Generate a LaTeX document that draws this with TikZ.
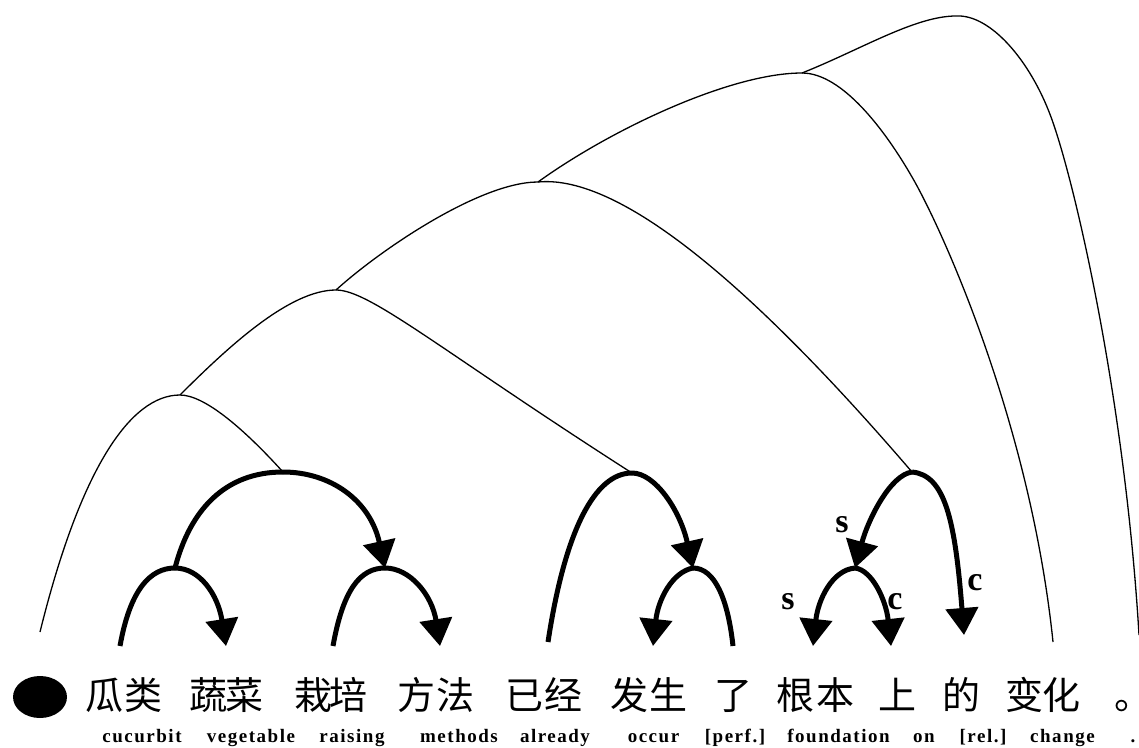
\documentclass[tikz,border=0pt]{standalone}
\usepackage{fontspec}
\setmainfont{Liberation Serif}
\newfontfamily\cjk{Noto Sans CJK SC}
\newfontfamily\gloss[LetterSpace=8]{Liberation Serif}
\usetikzlibrary{arrows.meta,shapes.geometric}
\begin{document}
\begin{tikzpicture}[x=1pt,y=-1pt,
  thinarc/.style={line width=1.3pt},
  thickarc/.style={line width=5pt},
  arr/.style={thickarc,-{Triangle[length=27pt,width=32pt]}},
  zh/.style={font=\cjk\fontsize{38}{40}\selectfont, inner sep=0pt, anchor=base},
  en/.style={font=\gloss\bfseries\fontsize{19}{21}\selectfont, inner sep=0pt, anchor=base},
  lab/.style={font=\bfseries\fontsize{34}{36}\selectfont, inner sep=0pt}]
\useasboundingbox (0,0) rectangle (1139,747);
% key points
\coordinate (a0) at (40,632);
\coordinate (pA) at (180,395);
\coordinate (pB) at (336,290);
\coordinate (pC) at (538,182);
\coordinate (pD) at (802,73);
\coordinate (pE) at (956,16);
\coordinate (t1) at (283,472);
\coordinate (t2) at (632,473);
\coordinate (t3) at (912,472);
\coordinate (s1) at (175,568);
\coordinate (s2) at (385,568);
\coordinate (s3) at (693,568);
\coordinate (s4) at (855,568);
\coordinate (dEnd) at (1053,642);
\coordinate (eEnd) at (1139,635);
\coordinate (f1) at (120,646);
\coordinate (f1t) at (226,646);
\coordinate (f2) at (333,646);
\coordinate (f2t) at (440,646);
\coordinate (f3) at (548,642);
\coordinate (f3t) at (653,646);
\coordinate (f3r) at (733,646);
\coordinate (f4l) at (813,646);
\coordinate (f4r) at (891,646);
\coordinate (t3r) at (964,635);
% thin arcs
\draw[thinarc] (a0) .. controls (80,470) and (130,395) .. (pA) .. controls (205,395) and (245,430) .. (t1);
\draw[thinarc] (pA) .. controls (230,345) and (290,290) .. (pB) .. controls (370,290) and (440,350) .. (t2);
\draw[thinarc] (pB) .. controls (380,250) and (480,182) .. (pC) .. controls (610,175) and (730,260) .. (t3);
\draw[thinarc] (pC) .. controls (610,130) and (730,73) .. (pD) .. controls (842,73) and (885,130) .. (912,177) .. controls (940,225) and (1030,420) .. (dEnd);
\draw[thinarc] (pD) .. controls (860,50) and (915,16) .. (pE) .. controls (990,14) and (1030,60) .. (1051,117) .. controls (1075,182) and (1125,400) .. (eEnd);
% thick arcs
\draw[thickarc] (f1) .. controls (130,590) and (150,568) .. (s1);
\draw[arr] (s1) .. controls (200,568) and (218,595) .. (f1t);
\draw[thickarc] (s1) .. controls (190,510) and (225,472) .. (t1);
\draw[arr] (t1) .. controls (330,472) and (370,500) .. (s2);
\draw[thickarc] (f2) .. controls (343,590) and (360,568) .. (s2);
\draw[arr] (s2) .. controls (410,568) and (432,595) .. (f2t);
\draw[thickarc] (f3) .. controls (565,530) and (595,473) .. (t2);
\draw[arr] (t2) .. controls (655,473) and (680,510) .. (s3);
\draw[arr] (s3) .. controls (672,572) and (658,600) .. (f3t);
\draw[thickarc] (s3) .. controls (715,568) and (728,600) .. (f3r);
\draw[arr] (t3) .. controls (890,475) and (868,520) .. (s4);
\draw[arr] (t3) .. controls (945,475) and (955,520) .. (t3r);
\draw[arr] (s4) .. controls (832,570) and (818,600) .. (f4l);
\draw[arr] (s4) .. controls (872,570) and (886,600) .. (f4r);
% labels
\node[lab] (ls1) at (842,525) {s};
\node[lab] (lc1) at (975,583) {c};
\node[lab] (ls2) at (788,602) {s};
\node[lab] (lc2) at (895,602) {c};
% bullet
\node[ellipse, fill=black, minimum width=54pt, minimum height=42pt, inner sep=0pt] (bul) at (40,697) {};
% chinese
\foreach \x/\c [count=\i] in {104.5/瓜, 143.5/类, 208.5/蔬, 244.5/菜, 313.5/栽, 348.5/培, 416.5/方, 455.5/法, 524.5/已, 563/经, 629/发, 668/生, 733.5/了, 795/根, 835/本, 897.5/上, 961.5/的, 1024.5/变, 1061.5/化}
  \node[zh] (zh\i) at (\x,709) {\c};
\node[zh, anchor=base west] (zhp) at (1114,709) {\makebox[12pt][l]{。}};
% gloss
\foreach \x/\w [count=\i] in {142/cucurbit, 251/vegetable, 352/raising, 459/methods, 555/already, 653.5/occur, 735/{[perf.]}, 838.5/foundation, 924/on, 983/{[rel.]}, 1062.5/change}
  \node[en] (en\i) at (\x,742) {\w};
\node[en] (enp) at (1133,742) {.};
\end{tikzpicture}
\end{document}
